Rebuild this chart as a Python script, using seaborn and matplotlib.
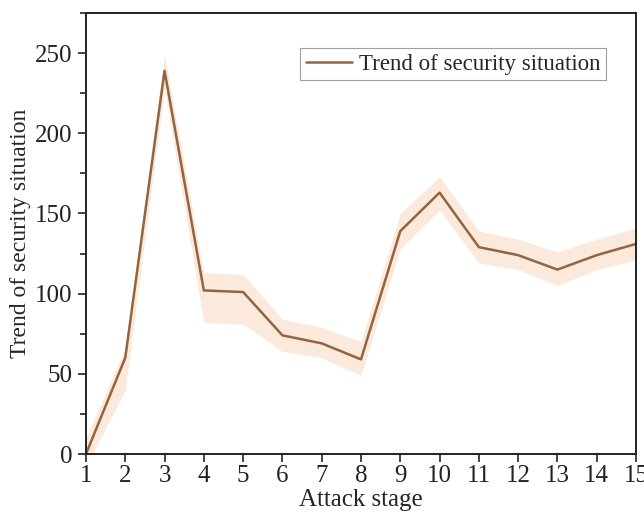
import matplotlib
matplotlib.use("Agg")
import matplotlib.pyplot as plt
import seaborn as sns
import pandas as pd
from matplotlib.ticker import MultipleLocator

stages = list(range(1, 16))
trend = [0, 60, 239, 102, 101, 74, 69, 59, 139, 163, 129, 124, 115, 124, 131]
lower = [-8, 40, 228, 82, 81, 64, 60, 49, 128, 152, 119, 115, 105, 115, 121]
upper = [10, 66, 249, 113, 112, 84, 79, 70, 150, 173, 139, 134, 126, 134, 141]
label = "Trend of security situation"

df = pd.DataFrame({"stage": stages, "trend": trend, "lower": lower, "upper": upper})

sns.set_style("ticks")
plt.rcParams["font.family"] = ["Liberation Serif", "DejaVu Serif"]

fig = plt.figure(figsize=(6.44, 5.14), dpi=100)
ax = fig.add_axes([0.1335, 0.1167, 0.9876 - 0.1335, 0.9747 - 0.1167])

ax.fill_between(df["stage"], df["lower"], df["upper"], color="#F9DCC4", alpha=0.6, lw=0)
sns.lineplot(data=df, x="stage", y="trend", ax=ax, color="#946440", lw=1.8, label=label)

ax.set_xlim(1, 15)
ax.set_ylim(0, 275)
ax.set_xticks(stages)
ax.yaxis.set_major_locator(MultipleLocator(50))
ax.yaxis.set_minor_locator(MultipleLocator(25))
ax.tick_params(axis="both", which="major", labelsize=18, direction="out", length=6, width=1.2, colors="#222222")
ax.tick_params(axis="x", which="major", pad=2)
ax.tick_params(axis="y", which="minor", direction="out", length=4, width=1.2, colors="#222222")
for s in ax.spines.values():
    s.set_visible(True)
    s.set_linewidth(1.4)
    s.set_color("#222222")

ax.set_xlabel("Attack stage", fontsize=18, labelpad=1)
ax.set_ylabel("Trend of security situation", fontsize=17, labelpad=3)

leg = ax.legend(loc="upper right", bbox_to_anchor=(0.945, 0.921), fontsize=16.5, frameon=True,
                fancybox=False, handlelength=2.0, handletextpad=0.3, borderpad=0.25,
                borderaxespad=0)
leg.get_frame().set_edgecolor("#888888")
leg.get_frame().set_linewidth(0.8)

fig.savefig("out.png", dpi=100)
